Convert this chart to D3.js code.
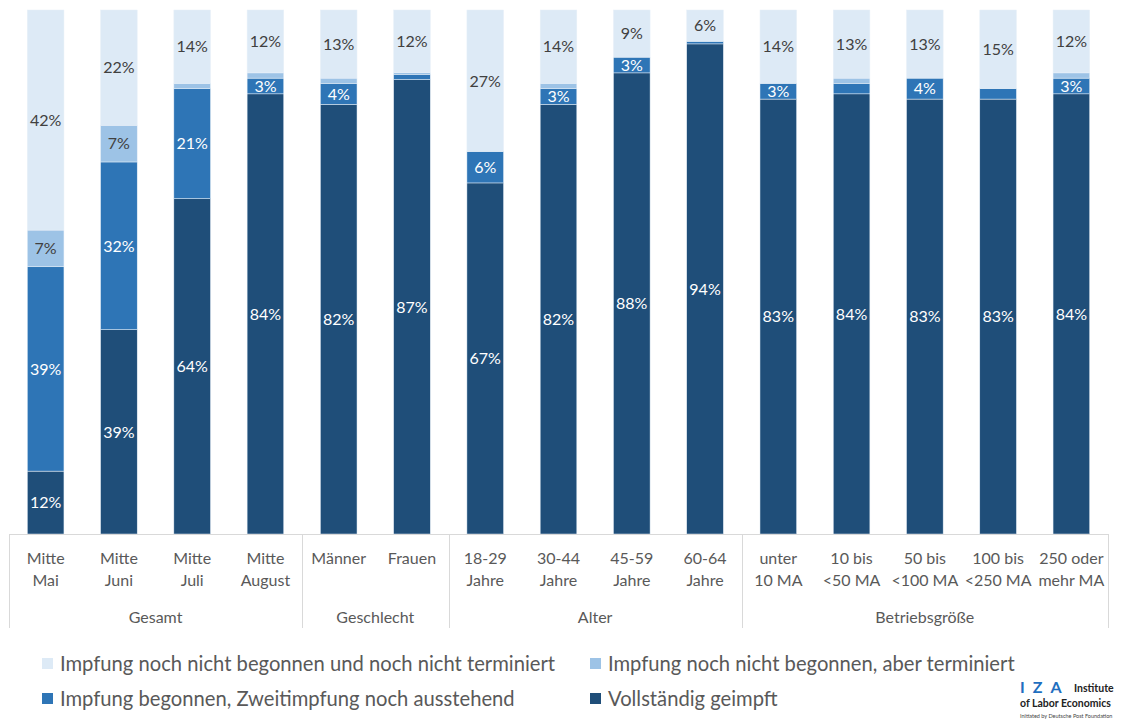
<!DOCTYPE html>
<html><head><meta charset="utf-8">
<script src="https://cdn.jsdelivr.net/npm/d3@7"></script>
<style>body{margin:0;background:#fff}svg{display:block}text{font-family:Lato,"Open Sans",sans-serif}</style>
</head><body><svg id="c" width="1121" height="722"></svg>
<script>
const categories = [["Mitte","Mai"],["Mitte","Juni"],["Mitte","Juli"],["Mitte","August"],["Männer",""],["Frauen",""],["18-29","Jahre"],["30-44","Jahre"],["45-59","Jahre"],["60-64","Jahre"],["unter","10 MA"],["10 bis","<50 MA"],["50 bis","<100 MA"],["100 bis","<250 MA"],["250 oder","mehr MA"]];
const groups = ["Gesamt","Geschlecht","Alter","Betriebsgröße"];
const groupSizes = [4,2,4,5];
const seriesNames = ["Vollständig geimpft","Impfung begonnen, Zweitimpfung noch ausstehend","Impfung noch nicht begonnen, aber terminiert","Impfung noch nicht begonnen und noch nicht terminiert"];
const voll       = [12,39,64,84,82,87,67,82,88,94,83,84,83,83,84];
const begonnen   = [39,32,21,3,4,1,6,3,3,0.5,3,2,4,2,3];
const terminiert = [7,7,1,1,1,0.3,0,1,0,0,0,1,0,0,1];
const nicht      = [42,22,14,12,13,12,27,14,9,6,14,13,13,15,12];
const colors = ["#1f4e79","#2e75b6","#9dc3e6","#ddeaf6"];
const labelColors = ["#ffffff","#ffffff","#404040","#404040"];

(function(){
const svg = d3.select("#c");
const pTop = 10, pBottom = 534, pLeft = 9, pRight = 1108;
const keys = ["s0","s1","s2","s3"];
const rows = categories.map((c,i)=>({i, s0:voll[i], s1:begonnen[i], s2:terminiert[i], s3:nicht[i]}));
const stack = d3.stack().keys(keys).offset(d3.stackOffsetExpand)(rows);
const x = d3.scaleBand().domain(d3.range(categories.length)).range([pLeft,pRight]).paddingInner(0.5).paddingOuter(0.25);
const y = d3.scaleLinear().domain([0,1]).range([pBottom,pTop]);

const layers = svg.append("g").selectAll("g").data(stack).join("g").attr("fill",(d,k)=>colors[k]);
layers.selectAll("rect").data(d=>d).join("rect")
  .attr("x",d=>x(d.data.i)).attr("width",x.bandwidth())
  .attr("y",d=>y(d[1])).attr("height",d=>Math.max(0,y(d[0])-y(d[1])))
  .attr("stroke","#e8f0f8").attr("stroke-width",0.5);

const fmt = v=>Math.round(v)+"%";
stack.forEach((layer,k)=>{
  svg.append("g").selectAll("text").data(layer.filter(d=>d.data[keys[k]]>=2.5)).join("text")
    .attr("x",d=>x(d.data.i)+x.bandwidth()/2)
    .attr("y",d=>(y(d[0])+y(d[1]))/2)
    .attr("dy","0.36em").attr("text-anchor","middle")
    .attr("font-size",16).attr("fill",labelColors[k])
    .text(d=>fmt(d.data[keys[k]]));
});

const ax = svg.append("g");
ax.append("line").attr("x1",pLeft).attr("x2",pRight).attr("y1",pBottom+0.5).attr("y2",pBottom+0.5).attr("stroke","#d9d9d9");
let idx=0; const seps=[pLeft];
groupSizes.forEach(n=>{idx+=n; seps.push(idx<categories.length ? (x(idx-1)+x.bandwidth()+x(idx))/2 : pRight);});
seps.forEach(s=>ax.append("line").attr("x1",Math.round(s)+0.5).attr("x2",Math.round(s)+0.5).attr("y1",pBottom).attr("y2",628).attr("stroke","#d9d9d9"));
categories.forEach((c,i)=>{
  c.forEach((t,j)=>{ if(!t) return;
    ax.append("text").attr("x",x(i)+x.bandwidth()/2).attr("y",564+j*22).attr("text-anchor","middle")
      .attr("font-size",16).attr("fill","#595959").text(t);
  });
});
groups.forEach((g,k)=>{
  ax.append("text").attr("x",(seps[k]+seps[k+1])/2).attr("y",623).attr("text-anchor","middle")
    .attr("font-size",16).attr("fill","#595959").text(g);
});

const legendOrder = [[3,42,664],[2,590,664],[1,42,699],[0,590,699]];
legendOrder.forEach(([k,lx,ly])=>{
  svg.append("rect").attr("x",lx).attr("y",ly-6).attr("width",11).attr("height",11).attr("fill",colors[k]);
  svg.append("text").attr("x",lx+18).attr("y",ly).attr("dy","0.35em").attr("font-size",20.2).attr("fill","#595959").text(seriesNames[k]);
});

const logo = svg.append("g");
logo.append("text").attr("x",1020).attr("y",693).attr("font-size",16).attr("font-weight","bold").attr("fill","#1f6fc0").attr("letter-spacing","8").text("IZA");
logo.append("text").attr("x",1074).attr("y",692).attr("font-size",10.5).attr("font-weight","bold").attr("fill","#222").text("Institute");
logo.append("text").attr("x",1020).attr("y",707).attr("font-size",10.5).attr("font-weight","bold").attr("fill","#222").text("of Labor Economics");
logo.append("text").attr("x",1020).attr("y",718).attr("font-size",5.5).attr("fill","#444").text("Initiated by Deutsche Post Foundation");
})();
</script></body></html>
